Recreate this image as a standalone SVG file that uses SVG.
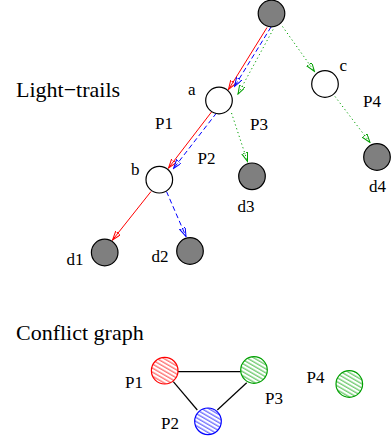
<svg xmlns="http://www.w3.org/2000/svg" width="391" height="436" viewBox="0 0 391 436">
<style>
text{font-family:"Liberation Serif","Times New Roman",serif;fill:#000}
.t{font-size:22px}
.l{font-size:17px}
.n{stroke:#000;stroke-width:1.2}
.g{fill:#7f7f7f}
.w{fill:#fff}
.e{fill:none;stroke-width:1}
.r{stroke:#ff0000}
.b{stroke:#0000ff;stroke-dasharray:5 3}
.gr{stroke:#00a000;stroke-dasharray:1.2 2.8}
.k{stroke:#000;stroke-width:1.2;fill:none}
</style>
<defs>
<marker id="ar" markerWidth="10" markerHeight="8" refX="9" refY="3" orient="auto" markerUnits="userSpaceOnUse"><path d="M0,0 L9,3 L0,6 Z" fill="none" stroke="#ff0000" stroke-width="1"/></marker>
<marker id="ab" markerWidth="10" markerHeight="8" refX="9" refY="3" orient="auto" markerUnits="userSpaceOnUse"><path d="M0,0 L9,3 L0,6 Z" fill="none" stroke="#0000ff" stroke-width="1"/></marker>
<marker id="ag" markerWidth="10" markerHeight="8" refX="9" refY="3" orient="auto" markerUnits="userSpaceOnUse"><path d="M0,0 L9,3 L0,6 Z" fill="none" stroke="#00a000" stroke-width="1"/></marker>
<pattern id="hr" width="4" height="3.5" patternUnits="userSpaceOnUse" patternTransform="rotate(30)"><line x1="0" y1="1" x2="4" y2="1" stroke="#ff0000" stroke-width="0.8"/></pattern>
<pattern id="hb" width="4" height="3.5" patternUnits="userSpaceOnUse" patternTransform="rotate(30)"><line x1="0" y1="1" x2="4" y2="1" stroke="#0000ff" stroke-width="0.8"/></pattern>
<pattern id="hg" width="4" height="3.5" patternUnits="userSpaceOnUse" patternTransform="rotate(30)"><line x1="0" y1="1" x2="4" y2="1" stroke="#00a000" stroke-width="0.8"/></pattern>
</defs>
<text class="t" x="16" y="97">Light−trails</text>
<text class="t" x="16" y="340">Conflict graph</text>
<g id="connectors">
<line class="e r" x1="267" y1="27.5" x2="228.5" y2="89.5" marker-end="url(#ar)"/>
<line class="e b" x1="271" y1="27" x2="234.5" y2="86.5" marker-end="url(#ab)"/>
<line class="e gr" x1="275" y1="26" x2="238" y2="94" marker-end="url(#ag)"/>
<line class="e r" x1="211.5" y1="112" x2="168.5" y2="168" marker-end="url(#ar)"/>
<line class="e b" x1="216.5" y1="113" x2="173.5" y2="168.5" marker-end="url(#ab)"/>
<line class="e gr" x1="231.5" y1="113" x2="247.5" y2="161.5" marker-end="url(#ag)"/>
<line class="e r" x1="151" y1="191.5" x2="112.5" y2="240" marker-end="url(#ar)"/>
<line class="e b" x1="166.5" y1="191.5" x2="186" y2="236.5" marker-end="url(#ab)"/>
<line class="e gr" x1="282.5" y1="26.5" x2="314.5" y2="71.5" marker-end="url(#ag)"/>
<line class="e gr" x1="335" y1="96.5" x2="370" y2="142.5" marker-end="url(#ag)"/>
<line class="k" x1="178" y1="371.7" x2="240.7" y2="371.7"/>
<line class="k" x1="173.3" y1="381.7" x2="197.3" y2="410"/>
<line class="k" x1="246.7" y1="382.7" x2="217.3" y2="410"/>
</g>
<g id="root"><circle class="n g" cx="271.5" cy="13.5" r="13.3"/></g>
<g id="a"><circle class="n w" cx="219" cy="100.5" r="13.3"/><text class="l" x="188" y="95">a</text></g>
<g id="b"><circle class="n w" cx="159.3" cy="179.7" r="13.3"/><text class="l" x="131" y="175">b</text></g>
<g id="c"><circle class="n w" cx="325" cy="84" r="13.3"/><text class="l" x="339.5" y="71">c</text></g>
<g id="d1"><circle class="n g" cx="104.7" cy="252.5" r="13.3"/><text class="l" x="66.5" y="265">d1</text></g>
<g id="d2"><circle class="n g" cx="190" cy="251" r="13.3"/><text class="l" x="151.5" y="261.5">d2</text></g>
<g id="d3"><circle class="n g" cx="252" cy="176.3" r="13.3"/><text class="l" x="237.5" y="211.5">d3</text></g>
<g id="d4"><circle class="n g" cx="377" cy="157" r="13.3"/><text class="l" x="369" y="191.5">d4</text></g>
<g id="labels-trails">
<text class="l" x="155" y="128.5">P1</text>
<text class="l" x="197.5" y="163.5">P2</text>
<text class="l" x="250" y="130">P3</text>
<text class="l" x="363" y="106.5">P4</text>
</g>
<g id="P1"><circle cx="164.7" cy="370.7" r="13.3" fill="url(#hr)" stroke="#ff0000" stroke-width="1.2"/><text class="l" x="125" y="388">P1</text></g>
<g id="P2"><circle cx="208" cy="421.3" r="13.3" fill="url(#hb)" stroke="#0000ff" stroke-width="1.2"/><text class="l" x="161" y="429">P2</text></g>
<g id="P3"><circle cx="254" cy="370" r="13.3" fill="url(#hg)" stroke="#00a000" stroke-width="1.2"/><text class="l" x="265" y="404">P3</text></g>
<g id="P4"><circle cx="349.3" cy="384" r="13.3" fill="url(#hg)" stroke="#00a000" stroke-width="1.2"/><text class="l" x="306.5" y="383">P4</text></g>
</svg>
